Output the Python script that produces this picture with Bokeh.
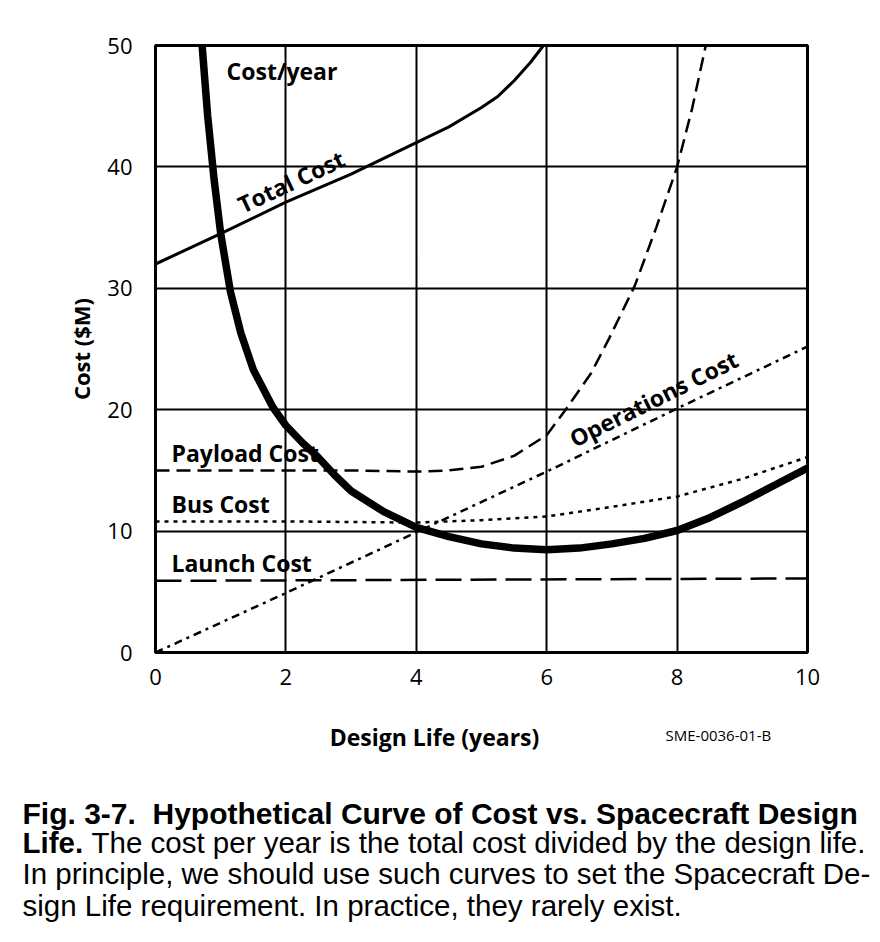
from bokeh.plotting import figure
from bokeh.layouts import column
from bokeh.models import Label, Range1d, FixedTicker
from bokeh.embed import file_html
from bokeh.resources import INLINE

# Design life (years) and costs ($M)
total_years = [0, 1, 2, 3, 4, 4.5, 5, 5.25, 5.5, 5.75, 5.95]
total_cost = [32.0, 34.5, 37.1, 39.4, 42.0, 43.3, 44.9, 45.8, 47.1, 48.6, 50.0]

cpy_years = [0.715, 0.8, 0.9, 1.0, 1.15, 1.31, 1.5, 1.8, 2.0, 2.25, 2.49, 2.75, 3.0, 3.5, 4.0,
             4.5, 5.0, 5.5, 6.0, 6.5, 7.0, 7.5, 8.0, 8.5, 9.0, 9.5, 10.0]
cost_per_year = [50.0, 44.2, 38.9, 34.5, 29.7, 26.3, 23.3, 20.2, 18.7, 17.3, 16.1, 14.6, 13.3, 11.6, 10.3,
                 9.55, 8.95, 8.6, 8.46, 8.6, 8.95, 9.4, 10.05, 11.1, 12.4, 13.8, 15.2]

payload_years = [0, 1, 2, 3, 4, 4.5, 5.0, 5.5, 6.0, 6.29, 6.68, 6.96, 7.35, 7.68, 8.0, 8.23, 8.44]
payload_cost = [15.0, 15.0, 15.0, 15.0, 14.9, 15.0, 15.3, 16.2, 17.9, 20.0, 23.0, 25.9, 30.2, 35.0, 40.0, 44.8, 50.0]

bus_years = [0, 2, 4, 5, 6, 7, 8, 9, 10]
bus_cost = [10.8, 10.8, 10.7, 10.9, 11.2, 12.0, 12.85, 14.3, 16.1]

ops_years = [0, 2, 4, 6, 8, 10]
ops_cost = [0.0, 4.9, 9.9, 14.9, 20.1, 25.2]

launch_years = [0, 10]
launch_cost = [5.9, 6.1]

x_ticks = [0, 2, 4, 6, 8, 10]
y_ticks = [0, 10, 20, 30, 40, 50]

FONT = "Open Sans"
CAPTION_FONT = "Liberation Sans"

# ---- chart ----
p = figure(width=880, height=700, output_backend="svg", toolbar_location=None,
           x_range=Range1d(0, 10), y_range=Range1d(0, 50), frame_align=False,
           min_border_left=155, min_border_right=73, min_border_top=45, min_border_bottom=48)

p.background_fill_color = "white"
p.border_fill_color = "white"
p.outline_line_color = "black"
p.outline_line_width = 3

for ax in (p.xaxis, p.yaxis):
    ax.axis_line_color = "black"
    ax.axis_line_width = 3
    ax.major_tick_line_color = None
    ax.minor_tick_line_color = None
    ax.major_label_text_font = FONT
    ax.major_label_text_font_size = "22px"
    ax.major_label_text_color = "black"

p.xaxis.ticker = FixedTicker(ticks=x_ticks)
p.yaxis.ticker = FixedTicker(ticks=y_ticks)
p.xaxis.major_label_standoff = 10
p.yaxis.major_label_standoff = 17
p.yaxis.axis_label = "Cost ($M)"
p.yaxis.axis_label_text_font = FONT
p.yaxis.axis_label_text_font_style = "bold"
p.yaxis.axis_label_text_font_size = "22px"
p.yaxis.axis_label_text_color = "black"
p.yaxis.axis_label_standoff = 8

p.xgrid.grid_line_color = "black"
p.ygrid.grid_line_color = "black"
p.xgrid.grid_line_width = 2
p.ygrid.grid_line_width = 2
p.xgrid.ticker = FixedTicker(ticks=x_ticks)
p.ygrid.ticker = FixedTicker(ticks=y_ticks)

p.line(launch_years, launch_cost, line_color="black", line_width=2.5, line_dash="26 9")
p.line(bus_years, bus_cost, line_color="black", line_width=2.5, line_dash="4 5")
p.line(ops_years, ops_cost, line_color="black", line_width=2.5, line_dash="8 5 3 5")
p.line(payload_years, payload_cost, line_color="black", line_width=2.5, line_dash="14 7")
p.line(total_years, total_cost, line_color="black", line_width=3)
p.line(cpy_years, cost_per_year, line_color="black", line_width=7.5)

def tag(text, x, y, angle=0, align="left"):
    p.add_layout(Label(x=x, y=y, text=text, angle=angle, angle_units="deg",
                       text_font=FONT, text_font_style="bold", text_font_size="23px",
                       text_align=align, text_baseline="middle", text_color="black"))

tag("Cost/year", 1.09, 47.9)
tag("Total Cost", 2.08, 38.8, angle=25, align="center")
tag("Payload Cost", 0.245, 16.4)
tag("Bus Cost", 0.245, 12.2)
tag("Launch Cost", 0.245, 7.4)
tag("Operations Cost", 7.64, 20.9, angle=26.5, align="center")

# ---- x-axis title, drawing number and caption (page pixel coordinates) ----
c = figure(width=880, height=242, output_backend="svg", toolbar_location=None,
           x_range=Range1d(0, 880), y_range=Range1d(942, 700), frame_align=False,
           x_axis_location=None, y_axis_location=None,
           min_border_left=0, min_border_right=0, min_border_top=0, min_border_bottom=0)
c.outline_line_color = None
c.background_fill_color = "white"
c.border_fill_color = "white"
c.grid.visible = False

def note(text, x, y, size, bold=False, font=CAPTION_FONT, align="left"):
    c.add_layout(Label(x=x, y=y, text=text, text_font=font,
                       text_font_style="bold" if bold else "normal",
                       text_font_size=size, text_align=align, text_baseline="alphabetic",
                       text_color="black"))

note("Design Life (years)", 434, 736, "23px", bold=True, font=FONT, align="center")
note("SME-0036-01-B", 665, 734, "15px", font=FONT)
note("Fig. 3-7.\u00a0 Hypothetical Curve of Cost vs. Spacecraft Design", 22, 813, "30px", bold=True)
note("Life.", 22, 842, "29.5px", bold=True)
note("The cost per year is the total cost divided by the design life.", 91, 842, "29.5px")
note("In principle, we should use such curves to set the Spacecraft De-", 22, 873, "29.5px")
note("sign Life requirement. In practice, they rarely exist.", 22, 905, "29.5px")

layout = column(p, c, spacing=0)
open("out.html", "w").write(file_html(layout, INLINE))
